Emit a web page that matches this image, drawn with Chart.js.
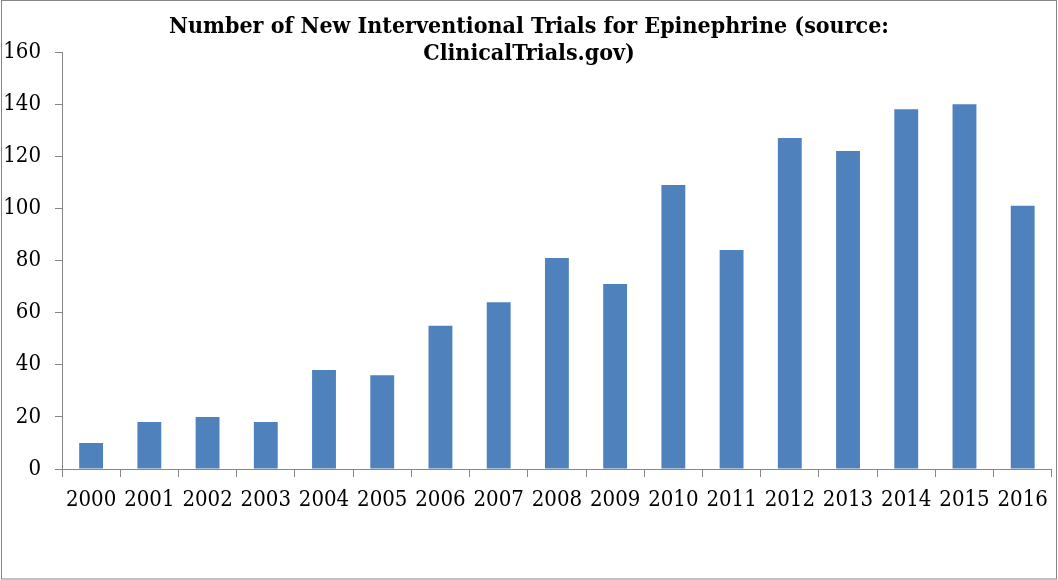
<!DOCTYPE html>
<html>
<head>
<meta charset="utf-8">
<script src="https://cdn.jsdelivr.net/npm/chart.js@4/dist/chart.umd.min.js"></script>
<style>
html,body{margin:0;padding:0;background:#fff;}
#wrap{width:1058px;height:580px;position:relative;}
</style>
</head>
<body>
<div id="wrap"><canvas id="c" width="1058" height="580"></canvas></div>
<script>
const years = ['2000','2001','2002','2003','2004','2005','2006','2007','2008','2009','2010','2011','2012','2013','2014','2015','2016'];
const trials = [10,18,20,18,38,36,55,64,81,71,109,84,127,122,138,140,101];
const titleLines = ['Number of New Interventional Trials for Epinephrine (source:', 'ClinicalTrials.gov)'];
const yMin = 0, yMax = 160, yStep = 20;

const FONT_TICK = '"DejaVu Serif Condensed", "DejaVu Serif", serif';
const FONT_TITLE = '"DejaVu Serif Condensed", "DejaVu Serif", serif';
const AXIS_GRAY = '#868686';

const frameAndTitle = {
  id: 'frameAndTitle',
  beforeDraw(chart) {
    const ctx = chart.ctx;
    ctx.save();
    ctx.fillStyle = '#ffffff';
    ctx.fillRect(0, 0, chart.width, chart.height);
    ctx.strokeStyle = AXIS_GRAY;
    ctx.lineWidth = 1;
    ctx.strokeRect(1.5, 0.5, chart.width - 3, chart.height - 1.5);
    ctx.restore();
  },
  afterDraw(chart) {
    const ctx = chart.ctx;
    ctx.save();
    ctx.fillStyle = '#000';
    ctx.font = 'bold 23px ' + FONT_TITLE;
    ctx.textAlign = 'center';
    ctx.textBaseline = 'alphabetic';
    ctx.fillText(titleLines[0], chart.width / 2, 33);
    ctx.fillText(titleLines[1], chart.width / 2, 60);
    ctx.restore();
  }
};

new Chart(document.getElementById('c'), {
  type: 'bar',
  data: {
    labels: years,
    datasets: [{
      data: trials,
      backgroundColor: '#4F81BD',
      borderWidth: 0,
      barPercentage: 0.41,
      categoryPercentage: 1.0
    }]
  },
  plugins: [frameAndTitle],
  options: {
    responsive: false,
    animation: false,
    devicePixelRatio: 1,
    layout: { padding: { top: 52, right: 4, bottom: 0, left: 0 } },
    plugins: { legend: { display: false }, title: { display: false }, tooltip: { enabled: false } },
    scales: {
      x: {
        grid: { display: true, drawOnChartArea: false, drawTicks: true, tickLength: 8, color: AXIS_GRAY, offset: true },
        border: { display: true, color: AXIS_GRAY, width: 1 },
        ticks: { color: '#000', font: { family: FONT_TICK, size: 22 }, padding: 10, maxRotation: 0, autoSkip: false },
        afterFit(scale) { scale.height = 111; }
      },
      y: {
        min: yMin, max: yMax,
        grid: { display: true, drawOnChartArea: false, drawTicks: true, tickLength: 7, color: AXIS_GRAY },
        border: { display: true, color: AXIS_GRAY, width: 1 },
        ticks: { stepSize: yStep, color: '#000', font: { family: FONT_TICK, size: 22 }, padding: 14 },
        afterFit(scale) { scale.width = 62; }
      }
    }
  }
});
</script>
</body>
</html>
